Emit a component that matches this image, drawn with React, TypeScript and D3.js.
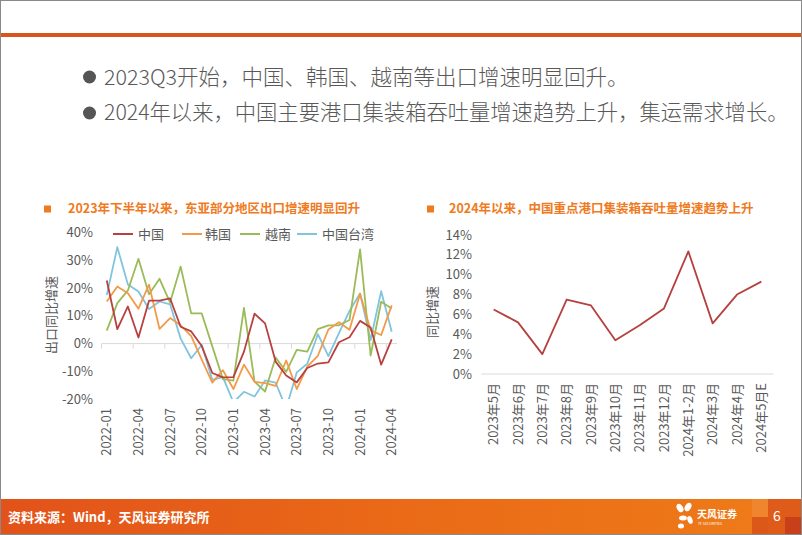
import React from "react";
import * as d3 from "d3";

const monthsL = [
  "2022-01","2022-02","2022-03","2022-04","2022-05","2022-06","2022-07","2022-08","2022-09","2022-10","2022-11","2022-12",
  "2023-01","2023-02","2023-03","2023-04","2023-05","2023-06","2023-07","2023-08","2023-09","2023-10","2023-11","2023-12",
  "2024-01","2024-02","2024-03","2024-04",
];
const chinaVals = [22.8, 5.2, 13.4, 2.2, 15.5, 15.5, 16.3, 6.1, 4.4, -0.9, -10.6, -12.2, -12.1, -2.9, 10.8, 7.3, -6.5, -11.5, -14.0, -8.8, -7.2, -6.8, 0.5, 2.3, 8.2, 5.8, -7.6, 1.5];
const koreaVals = [15.2, 20.6, 18.2, 12.6, 21.3, 5.3, 9.2, 6.6, 2.7, -5.8, -14.1, -9.6, -16.4, -7.6, -13.8, -14.3, -15.3, -6.1, -16.4, -8.3, -4.4, 5.1, 7.7, 5.0, 18.0, 4.8, 3.1, 13.8];
const vietnamVals = [4.7, 14.6, 19.2, 30.6, 17.8, 23.4, 14.8, 27.8, 10.9, 10.9, -1.0, -12.8, -13.4, 12.9, -13.7, -17.3, -5.0, -10.2, -2.3, -2.9, 5.2, 6.6, 6.6, 8.5, 34.0, -4.3, 15.1, 12.7];
const taiwanVals = [17.5, 34.8, 21.3, 18.8, 12.5, 15.2, 14.2, 1.8, -5.3, -0.5, -13.1, -12.1, -21.2, -17.4, -19.1, -13.3, -14.1, -23.4, -10.4, -7.3, 3.4, -4.5, 3.8, 11.8, 18.1, 1.3, 18.9, 4.3];
const seriesNamesL = ["中国", "韩国", "越南", "中国台湾"];
const seriesColorsL = ["#B8403F", "#F39A48", "#9BBB59", "#80C4DE"];
const yTicksL = [-20, -10, 0, 10, 20, 30, 40];
const xTickLabelsL = monthsL.filter((_, i) => i % 3 === 0);

const monthsR = ["2023年5月","2023年6月","2023年7月","2023年8月","2023年9月","2023年10月","2023年11月","2023年12月","2024年1-2月","2024年3月","2024年4月","2024年5月E"];
const portVals = [6.5, 5.2, 2.0, 7.5, 6.9, 3.4, 4.9, 6.6, 12.35, 5.1, 8.0, 9.3];
const yTicksR = [0, 2, 4, 6, 8, 10, 12, 14];

const FONT = "'Noto Sans CJK SC', 'Noto Sans', sans-serif";
const GRAY = "#595959";
const ORANGE = "#F07A1E";

export default function App() {
  // left chart scales
  const xL = d3.scaleBand<string>().domain(monthsL).range([101.5, 397]);
  const bwL = xL.bandwidth();
  const yL = d3.scaleLinear().domain([-20, 40]).range([399, 232.8]);
  const cx = (m: string) => (xL(m) as number) + bwL / 2;
  const lineL = d3.line<number>().x((_, i) => cx(monthsL[i])).y((v) => yL(v));
  const seriesL = [chinaVals, koreaVals, vietnamVals, taiwanVals];
  const drawOrder = [3, 2, 1, 0];

  // right chart scales
  const xR = d3.scaleBand<string>().domain(monthsR).range([481.5, 773.5]);
  const bwR = xR.bandwidth();
  const yR = d3.scaleLinear().domain([0, 14]).range([374, 235]);
  const lineR = d3.line<number>().x((_, i) => (xR(monthsR[i]) as number) + bwR / 2).y((v) => yR(v));

  const legendItems = [
    { x: 113, tx: 138 },
    { x: 182, tx: 205 },
    { x: 240, tx: 265 },
    { x: 297, tx: 322 },
  ];

  const tickBoundaries = d3.range(0, monthsL.length, 3).map((i) => (xL(monthsL[i]) as number));

  return (
    <svg width={802} height={535} viewBox="0 0 802 535" style={{ position: "absolute", left: 0, top: 0, display: "block", background: "#fff" }} fontFamily={FONT}>
      <defs>
        <linearGradient id="footGrad" x1="0" x2="1" y1="0" y2="0">
          <stop offset="0" stopColor="#E2521A" />
          <stop offset="0.5" stopColor="#EA6A17" />
          <stop offset="1" stopColor="#EE7C18" />
        </linearGradient>
        <clipPath id="clipL">
          <rect x={95} y={yL(40) - 2} width={310} height={yL(-20) - yL(40) + 2} />
        </clipPath>
      </defs>
      <rect x={0.5} y={0.5} width={801} height={534} fill="#fff" stroke="#8a8a8a" strokeWidth={1} />

      {/* top orange bar */}
      <rect x={1} y={33} width={800} height={4} fill="#D8561C" />

      {/* bullets */}
      <circle cx={89.5} cy={77} r={6.5} fill="#555" />
      <text x={104} y={77} dy="0.35em" fontSize={21.5} fontWeight={300} fill={GRAY}>2023Q3开始，中国、韩国、越南等出口增速明显回升。</text>
      <circle cx={89.5} cy={113} r={6.5} fill="#555" />
      <text x={104} y={113} dy="0.35em" fontSize={21.3} fontWeight={300} fill={GRAY}>2024年以来，中国主要港口集装箱吞吐量增速趋势上升，集运需求增长。</text>

      {/* left chart title */}
      <rect x={44} y={205.5} width={7} height={7} fill={ORANGE} />
      <text x={68} y={209} dy="0.35em" fontSize={12.5} fontWeight={600} fill={ORANGE}>2023年下半年以来，东亚部分地区出口增速明显回升</text>

      {/* legend */}
      {legendItems.map((it, k) => (
        <g key={k}>
          <line x1={it.x} x2={it.x + 20} y1={234} y2={234} stroke={seriesColorsL[k]} strokeWidth={2} />
          <text x={it.tx} y={234} dy="0.35em" fontSize={13} fill={GRAY}>{seriesNamesL[k]}</text>
        </g>
      ))}

      {/* left y ticks */}
      {yTicksL.map((t) => (
        <text key={t} x={93} y={yL(t)} dy="0.35em" textAnchor="end" fontSize={13} fill={GRAY}>{t}%</text>
      ))}
      <text transform={`translate(51,315) rotate(-90)`} textAnchor="middle" dy="0.35em" fontSize={13} fill={GRAY}>出口同比增速</text>

      {/* left axis */}
      <line x1={101.5} x2={397} y1={yL(0)} y2={yL(0)} stroke="#D9D9D9" strokeWidth={1} />
      {tickBoundaries.map((x, k) => (
        <line key={k} x1={x} x2={x} y1={yL(0)} y2={yL(0) + 5} stroke="#D9D9D9" strokeWidth={1} />
      ))}
      {xTickLabelsL.map((m) => (
        <text key={m} transform={`translate(${cx(m)},408) rotate(-90)`} textAnchor="end" dy="0.35em" fontSize={13} fill={GRAY}>{m}</text>
      ))}

      {/* left lines */}
      <g clipPath="url(#clipL)">
        {drawOrder.map((k) => (
          <path key={k} d={lineL(seriesL[k]) || ""} fill="none" stroke={seriesColorsL[k]} strokeWidth={1.8} strokeLinejoin="round" />
        ))}
      </g>

      {/* right chart title */}
      <rect x={427} y={205.5} width={7} height={7} fill={ORANGE} />
      <text x={449} y={209} dy="0.35em" fontSize={12.5} fontWeight={600} fill={ORANGE}>2024年以来，中国重点港口集装箱吞吐量增速趋势上升</text>

      {/* right y ticks */}
      {yTicksR.map((t) => (
        <text key={t} x={472} y={yR(t)} dy="0.35em" textAnchor="end" fontSize={13} fill={GRAY}>{t}%</text>
      ))}
      <text transform={`translate(432,312) rotate(-90)`} textAnchor="middle" dy="0.35em" fontSize={13} fill={GRAY}>同比增速</text>

      <line x1={481.5} x2={773.5} y1={yR(0)} y2={yR(0)} stroke="#D9D9D9" strokeWidth={1} />
      {monthsR.map((m) => (
        <text key={m} transform={`translate(${(xR(m) as number) + bwR / 2},383) rotate(-90)`} textAnchor="end" dy="0.35em" fontSize={13} fill={GRAY}>{m}</text>
      ))}
      <path d={lineR(portVals) || ""} fill="none" stroke="#B5413F" strokeWidth={1.8} strokeLinejoin="round" />

      {/* footer */}
      <rect x={1} y={499} width={800} height={35} fill="url(#footGrad)" />
      <rect x={752} y={499} width={16} height={18} fill="#F09040" opacity={0.55} />
      <rect x={752} y={517} width={16} height={17} fill="#D44A1A" opacity={0.7} />
      <rect x={768} y={499} width={33} height={35} fill="#D8501B" opacity={0.75} />
      <rect x={785} y={517} width={16} height={17} fill="#C23A1A" opacity={0.8} />
      <text x={8} y={517} dy="0.35em" fontSize={13} fontWeight={700} fill="#fff">资料来源：Wind，天风证券研究所</text>
      <g fill="#fff">
        <ellipse cx={680} cy={508} rx={3} ry={4.5} transform="rotate(-30 680 508)" />
        <ellipse cx={688} cy={507} rx={3} ry={4.5} transform="rotate(30 688 507)" />
        <ellipse cx={683} cy={518} rx={4} ry={2.5} />
        <ellipse cx={690} cy={520} rx={2.5} ry={4} transform="rotate(-20 690 520)" />
        <ellipse cx={681} cy={526} rx={3} ry={2.5} />
      </g>
      <text x={697} y={514} dy="0.35em" fontSize={10} fontWeight={700} fill="#fff">天风证券</text>
      <text x={698} y={524} dy="0.35em" fontSize={3.5} fill="#fff">TF SECURITIES</text>
      <text x={777} y={516} dy="0.35em" textAnchor="middle" fontSize={14} fill="#fff">6</text>
    </svg>
  );
}
